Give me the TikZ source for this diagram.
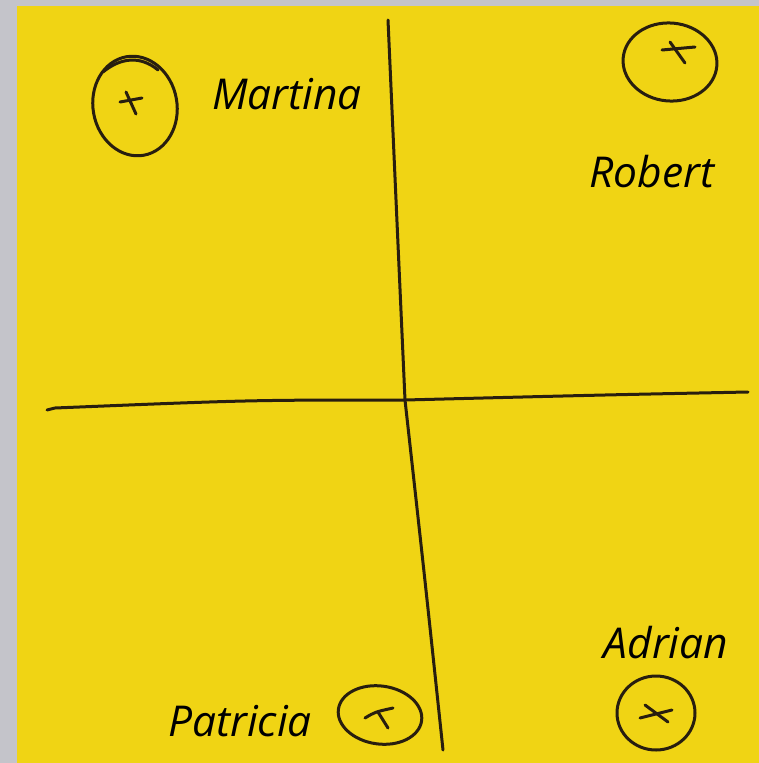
\documentclass[tikz,border=0pt]{standalone}
\usepackage{fontspec}
\setmainfont{Open Sans}
\definecolor{bggray}{RGB}{196,196,202}
\definecolor{note}{RGB}{240,212,20}
\definecolor{ink}{RGB}{40,30,15}
\begin{document}
\begin{tikzpicture}[x=1pt,y=-1pt,
  pen/.style={draw=ink,line width=3pt,line cap=round},
  lbl/.style={font=\fontsize{42.5}{42.5}\selectfont\itshape,text=black,inner sep=0pt}]
\useasboundingbox (0,0) rectangle (759,763);
\fill[bggray] (0,0) rectangle (759,763);
\fill[note] (17,6) rectangle (759,763);
% axes
\coordinate (vt) at (388,20);
\coordinate (vm) at (405,400);
\coordinate (vb) at (443,750);
\coordinate (hl) at (47,410);
\coordinate (hr) at (748,392);
\draw[pen] (vt) .. controls (396,200) .. (vm) .. controls (425,580) .. (vb);
\draw[pen] (hl) -- (55,408) .. controls (250,400) .. (vm) .. controls (600,395) .. (hr);
% circles
\draw[pen] (135,106) ellipse [x radius=42,y radius=50,rotate=10];
\draw[pen] (103,72) .. controls (120,58) and (140,55) .. (158,70);
\draw[pen] (670,62) ellipse [x radius=47,y radius=39,rotate=-5];
\draw[pen] (380,715) ellipse [x radius=42,y radius=29,rotate=-8];
\draw[pen] (656,713) ellipse [x radius=39,y radius=37];
% crosses
\draw[pen] (120,102) -- (142,98);
\draw[pen] (126,92) -- (136,114);
\draw[pen] (662,50) -- (695,47);
\draw[pen] (670,42) -- (685,63);
\draw[pen] (365,718) .. controls (375,712) .. (393,708);
\draw[pen] (378,712) -- (388,728);
\draw[pen] (640,718) -- (672,710);
\draw[pen] (645,705) -- (668,722);
% labels
\node[lbl] (martina) at (287,94) {Martina};
\node[lbl] (robert) at (652,172) {Robert};
\node[lbl] (adrian) at (666,643) {Adrian};
\node[lbl] (patricia) at (240,721) {Patricia};
\end{tikzpicture}
\end{document}
